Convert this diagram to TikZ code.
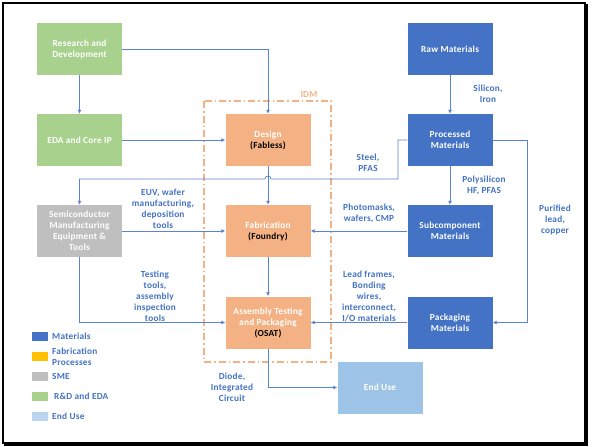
\documentclass[tikz,border=0pt]{standalone}
\usepackage{fontspec}
\setmainfont{Carlito}[LetterSpace=2.5]
\usetikzlibrary{arrows.meta}
\definecolor{matblue}{HTML}{4472C4}
\definecolor{fabor}{HTML}{F4B183}
\definecolor{rdgreen}{HTML}{A9D18E}
\definecolor{smegray}{HTML}{BFBFBF}
\definecolor{endblue}{HTML}{9DC3E6}
\definecolor{legyellow}{HTML}{FFC000}
\definecolor{linkblue}{HTML}{5B84D0}
\tikzset{
  box/.style={minimum width=85pt, minimum height=52pt, inner sep=1pt, align=center,
    font=\fontsize{9.3}{11}\selectfont\bfseries, text=white, draw=none},
  matbox/.style={box, fill=matblue},
  fabbox/.style={box, fill=fabor},
  rdbox/.style={box, fill=rdgreen},
  smebox/.style={box, fill=smegray},
  endbox/.style={box, fill=endblue},
  link/.style={draw=linkblue, line width=0.8pt, -{Latex[length=4pt,width=4pt]}},
  lbl/.style={text=matblue, align=center, font=\fontsize{9.3}{11}\selectfont\bfseries, inner sep=0pt},
  legsq/.style={minimum width=16pt, minimum height=9pt, inner sep=0pt, draw=none},
  legtxt/.style={anchor=west, text=matblue, align=left, font=\fontsize{9.3}{11}\selectfont\bfseries, inner sep=0pt}
}
\begin{document}
\begin{tikzpicture}[x=1pt,y=-1pt]
\useasboundingbox (0,0) rectangle (595,447);
\fill[white] (0,0) rectangle (595,447);
\draw[black, line width=1.4pt] (3,3) rectangle (585,443);
\draw[black, line width=1.2pt] (587,4) -- (587,445) -- (4,445);

% IDM group
\draw[fabor, line width=1.3pt, dash pattern=on 7pt off 3pt on 1.5pt off 3pt] (204,101) rectangle (331,362);
\node[text=fabor, font=\fontsize{9.3}{11}\selectfont\bfseries] (idm) at (309,94) {IDM};

% nodes
\node[rdbox] (rd) at (79.5,49) {Research and\\Development};
\node[rdbox] (eda) at (79.5,140) {EDA and Core IP};
\node[fabbox] (design) at (268,140) {Design\\\textcolor{black}{(Fabless)}};
\node[matbox] (raw) at (450,49) {Raw Materials};
\node[matbox] (proc) at (450,140) {Processed\\Materials};
\node[smebox] (sme) at (79.5,231) {Semiconductor\\Manufacturing\\Equipment \&\\Tools};
\node[fabbox] (fab) at (268,231) {Fabrication\\\textcolor{black}{(Foundry)}};
\node[matbox] (sub) at (450,231) {Subcomponent\\Materials};
\node[fabbox] (asm) at (268,322.5) {Assembly Testing\\and Packaging\\\textcolor{black}{(OSAT)}};
\node[matbox] (pack) at (450,322.5) {Packaging\\Materials};
\node[endbox] (enduse) at (380,387.5) {End Use};

% connectors
\draw[link] (rd.east) -- (rd.east -| design.north) -- (design.north);
\draw[link] (rd.south) -- (eda.north);
\draw[link] (eda.east) -- (design.west);
\draw[link] (design.south) -- (fab.north);
\draw[link] (fab.south) -- (asm.north);
\draw[link] (raw.south) -- (proc.north);
\draw[link] (proc.south) -- (sub.north);
\coordinate (pa) at (398,140);
\coordinate (pb) at (398,179);
\coordinate (h1) at (271,179);
\coordinate (h2) at (265,179);
\draw[link] (proc.west) -- (pa) -- (pb) -- (h1) .. controls (271,175) and (265,175) .. (h2) -- (h2 -| sme.north) -- (sme.north);
\coordinate (pr) at (527,140);
\draw[link] (proc.east) -- (pr) -- (pr |- pack.east) -- (pack.east);
\draw[link] (sub.west) -- (fab.east);
\draw[link] (pack.west) -- (asm.east);
\draw[link] (sme.east) -- (fab.west);
\draw[link] (sme.south) -- (sme.south |- asm.west) -- (asm.west);
\draw[link] (asm.south) -- (asm.south |- enduse.west) -- (enduse.west);

% labels
\node[lbl] (l1) at (488,94) {Silicon,\\Iron};
\node[lbl] (l2) at (368,163) {Steel,\\PFAS};
\node[lbl] (l3) at (484,185) {Polysilicon\\HF, PFAS};
\node[lbl] (l4) at (369,213) {Photomasks,\\wafers, CMP};
\node[lbl] (l5) at (555,220) {Purified\\lead,\\copper};
\node[lbl] (l6) at (163,209) {EUV, wafer\\manufacturing,\\deposition\\tools};
\node[lbl] (l7) at (369,296) {Lead frames,\\Bonding\\wires,\\interconnect,\\I/O materials};
\node[lbl] (l8) at (155,296) {Testing\\tools,\\assembly\\inspection\\tools};
\node[lbl] (l9) at (232,387) {Diode,\\Integrated\\Circuit};

% legend
\node[legsq, fill=matblue] (s1) at (40,336.5) {};
\node[legtxt] (t1) at (52,336.5) {Materials};
\node[legsq, fill=legyellow] (s2) at (40,356.5) {};
\node[legtxt] (t2) at (52,356.5) {Fabrication\\Processes};
\node[legsq, fill=smegray] (s3) at (40,376.5) {};
\node[legtxt] (t3) at (52,376.5) {SME};
\node[legsq, fill=rdgreen] (s4) at (40,396.5) {};
\node[legtxt] (t4) at (54,396.5) {R\&D and EDA};
\node[legsq, fill=endblue!70] (s5) at (40,416.5) {};
\node[legtxt] (t5) at (52,416.5) {End Use};
\end{tikzpicture}
\end{document}
